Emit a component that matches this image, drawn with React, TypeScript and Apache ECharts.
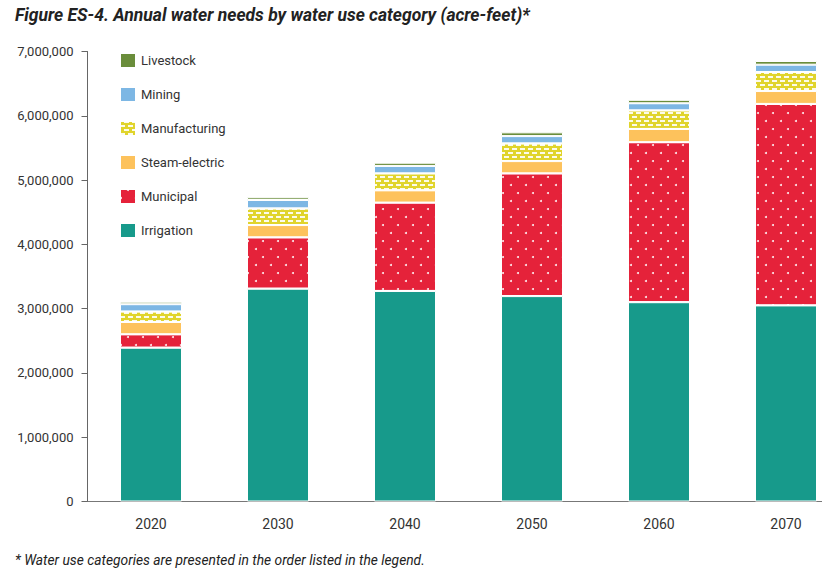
import React, { useEffect, useRef } from "react";
import * as echarts from "echarts";

const categories = ["2020", "2030", "2040", "2050", "2060", "2070"];
const irrigation = [2392000, 3310000, 3275000, 3195000, 3100000, 3050000];
const municipal = [210000, 800000, 1375000, 1910000, 2490000, 3135000];
const steamElectric = [190000, 190000, 190000, 190000, 205000, 200000];
const manufacturing = [165000, 260000, 265000, 276000, 290000, 296000];
const mining = [112000, 130000, 115000, 113000, 110000, 114000];
const livestock = [38000, 42000, 50000, 58000, 53000, 57000];
const legendOrder = ["Livestock", "Mining", "Manufacturing", "Steam-electric", "Municipal", "Irrigation"];

const FONT = "Roboto";

export default function App() {
  const ref = useRef<HTMLDivElement>(null);
  useEffect(() => {
    if (!ref.current) return;
    const chart = echarts.init(ref.current, undefined, { renderer: "svg" });
    const base = (name: string, data: number[], color: string, decal?: any) => ({
      name,
      type: "bar",
      stack: "total",
      data,
      barWidth: 62,
      itemStyle: {
        color,
        borderColor: "#ffffff",
        borderWidth: 1,
        ...(decal ? { decal } : {}),
      },
    });
    chart.setOption({
      animation: false,
      title: [
        {
          text: "Figure ES-4. Annual water needs by water use category (acre-feet)*",
          left: 15,
          top: 6,
          padding: 0,
          textStyle: { fontFamily: FONT, fontSize: 17.5, fontStyle: "italic", fontWeight: "bold", color: "#222" },
        },
        {
          text: "* Water use categories are presented in the order listed in the legend.",
          left: 15,
          top: 553,
          padding: 0,
          textStyle: { fontFamily: FONT, fontSize: 13.8, fontStyle: "italic", fontWeight: "normal", color: "#222" },
        },
      ],
      legend: {
        orient: "vertical",
        left: 119,
        top: 52,
        padding: 0,
        itemWidth: 16,
        itemHeight: 15,
        itemGap: 17,
        icon: "rect",
        data: legendOrder,
        textStyle: { fontFamily: FONT, fontSize: 13, color: "#333" },
      },
      grid: { left: 87.5, top: 51.5, width: 762, height: 450, containLabel: false },
      xAxis: {
        type: "category",
        data: categories,
        axisLine: { lineStyle: { color: "#777", width: 1 } },
        axisTick: { show: false },
        axisLabel: { fontFamily: FONT, fontSize: 14, color: "#333", margin: 15 },
      },
      yAxis: {
        type: "value",
        min: 0,
        max: 7000000,
        interval: 1000000,
        axisLine: { show: true, lineStyle: { color: "#666", width: 1 } },
        axisTick: { show: true, length: 6, lineStyle: { color: "#666" } },
        splitLine: { show: false },
        axisLabel: {
          fontFamily: FONT,
          fontSize: 13,
          color: "#333",
          margin: 14,
          formatter: (v: number) => v.toLocaleString("en-US"),
        },
      },
      series: [
        base("Irrigation", irrigation, "#179A8B"),
        base("Municipal", municipal, "#E5223A", {
          symbol: "circle",
          symbolSize: 1,
          color: "rgba(255,255,255,0.9)",
          dashArrayX: [[2, 13], [0, 7, 2, 6]],
          dashArrayY: [2, 6],
        }),
        base("Steam-electric", steamElectric, "#FDC25C"),
        base("Manufacturing", manufacturing, "#E0D42C", {
          symbol: "rect",
          symbolSize: 1,
          symbolKeepAspect: false,
          color: "rgba(255,255,255,0.9)",
          dashArrayX: [[5, 3], [1, 3, 4, 0]],
          dashArrayY: [2, 2],
        }),
        base("Mining", mining, "#7DB7E4"),
        base("Livestock", livestock, "#6A8D3B"),
      ],
    });
    return () => chart.dispose();
  }, []);
  return (
    <div style={{ position: "fixed", left: 0, top: 0, width: 822, height: 588, overflow: "hidden", background: "#fff" }}>
      <div ref={ref} style={{ width: 852, height: 588 }} />
    </div>
  );
}
